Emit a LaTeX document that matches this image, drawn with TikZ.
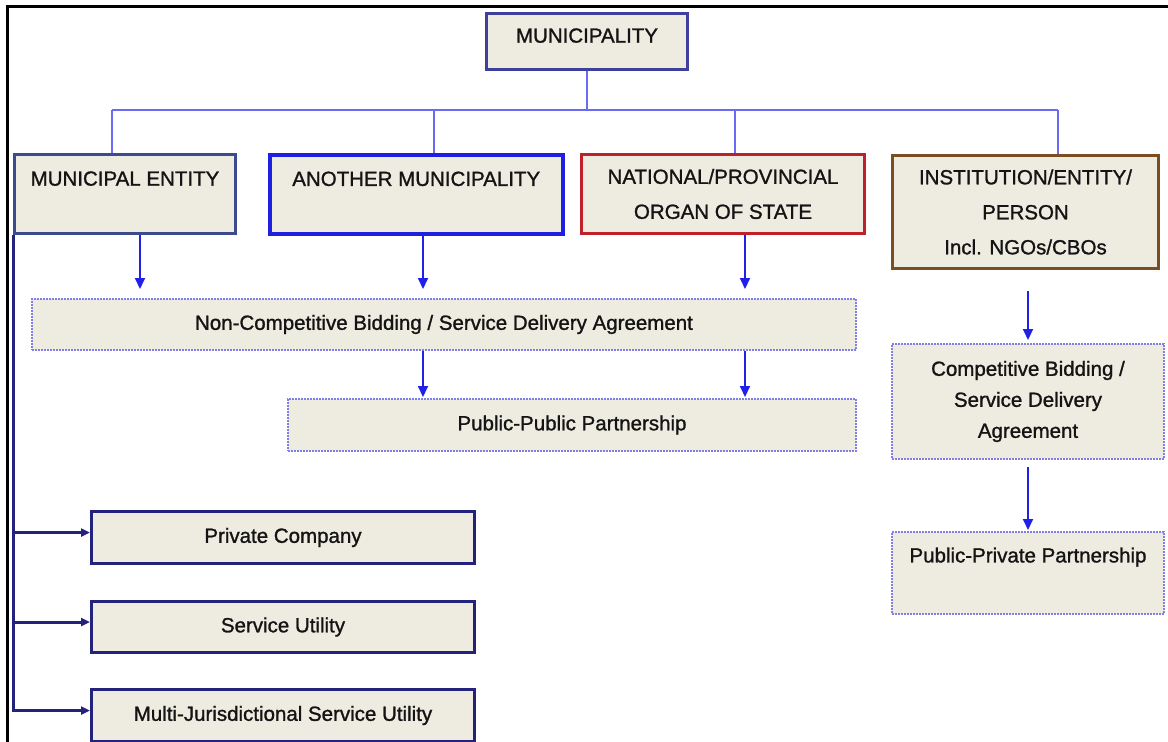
\documentclass[tikz,border=0pt]{standalone}
\usepackage{fontspec}
\setmainfont{Liberation Sans}[UprightFeatures={FakeBold=1.2}]
\usetikzlibrary{arrows.meta}
\definecolor{boxfill}{HTML}{EEECE1}
\definecolor{munblue}{HTML}{3F3F9C}
\definecolor{meblue}{HTML}{3C4A8E}
\definecolor{amblue}{HTML}{1F1FE0}
\definecolor{npred}{HTML}{C0202A}
\definecolor{instbrown}{HTML}{7B4E22}
\definecolor{navy}{HTML}{23237E}
\definecolor{dotblue}{HTML}{7F7FE6}
\definecolor{treeblue}{HTML}{6A6AF2}
\definecolor{arrblue}{HTML}{2020E8}
\begin{document}
\begin{tikzpicture}[x=1pt,y=-1pt,
    box/.style={draw, fill=boxfill, line width=3pt, anchor=north west, inner sep=2pt,
      text=black!92, font=\fontsize{20.5}{35}\selectfont, align=center},
    dotbox/.style={box, draw=dotblue, line width=2pt, dash pattern=on 1.6pt off 1.4pt},
    tree/.style={draw=treeblue, line width=1.5pt},
    arr/.style={draw=arrblue, line width=2pt, -{Triangle[length=11pt,width=10pt]}},
    bracket/.style={draw=navy, line width=3pt, -{Triangle[length=9pt,width=8pt]}}]
  \useasboundingbox (0,0) rectangle (1168,742);
  \draw[black, line width=3pt] (7,742) -- (7,6) -- (1168,6);
  % top level
  \node[box, draw=munblue, minimum width=201pt, minimum height=56pt, text depth=12pt] (mun) at (485,12) {MUNICIPALITY};
  \node[box, draw=meblue, minimum width=221pt, minimum height=79pt, text depth=31pt] (me) at (13,153) {MUNICIPAL ENTITY};
  \node[box, draw=amblue, line width=3.5pt, minimum width=293pt, minimum height=79pt, text depth=31pt] (am) at (268,153) {ANOTHER MUNICIPALITY};
  \node[box, draw=npred, minimum width=283pt, minimum height=79pt] (np) at (580,153) {NATIONAL/PROVINCIAL\\ORGAN OF STATE};
  \node[box, draw=instbrown, minimum width=266pt, minimum height=113pt] (inst) at (891,154) {INSTITUTION/ENTITY/\\PERSON\\Incl. NGOs/CBOs};
  % agreements
  \node[dotbox, minimum width=824pt, minimum height=51pt] (ncb) at (31,298) {Non-Competitive Bidding / Service Delivery Agreement};
  \node[dotbox, minimum width=568pt, minimum height=52pt] (ppp) at (287,398) {Public-Public Partnership};
  \node[dotbox, minimum width=272pt, minimum height=115pt, font=\fontsize{20.5}{31}\selectfont] (cbid) at (891,343) {Competitive Bidding /\\Service Delivery\\Agreement};
  \node[dotbox, minimum width=272pt, minimum height=82pt, text depth=36pt] (pppriv) at (891,531) {Public-Private Partnership};
  % municipal entity options
  \node[box, draw=navy, minimum width=383pt, minimum height=52pt] (pc) at (90,510) {Private Company};
  \node[box, draw=navy, minimum width=383pt, minimum height=51pt] (su) at (90,600) {Service Utility};
  \node[box, draw=navy, minimum width=383pt, minimum height=52pt] (mj) at (90,688) {Multi-Jurisdictional Service Utility};
  % tree
  \coordinate (busL) at (112,110);
  \coordinate (busR) at (1058,110);
  \draw[tree] (mun.south) -- (mun.south |- busL);
  \draw[tree] (busL) -- (busR);
  \foreach \n/\x in {me/112, am/434, np/735, inst/1058}
    \draw[tree] (\n.north -| \x,0) -- (busL -| \x,0);
  % arrows
  \foreach \n/\x in {me/140, am/423, np/745}
    \draw[arr, shorten >=9pt] (\n.south -| \x,0) -- (ncb.north -| \x,0);
  \foreach \x in {423, 745}
    \draw[arr, shorten >=1pt] (ncb.south -| \x,0) -- (ppp.north -| \x,0);
  \draw[arr, shorten <=21pt, shorten >=3pt] (inst.south -| cbid.north) -- (cbid.north);
  \draw[arr, shorten <=7pt, shorten >=1pt] (cbid.south) -- (pppriv.north);
  \foreach \n in {pc, su, mj}
    \draw[bracket] (me.south west) |- ([yshift=5pt]\n.west);
\end{tikzpicture}
\end{document}
